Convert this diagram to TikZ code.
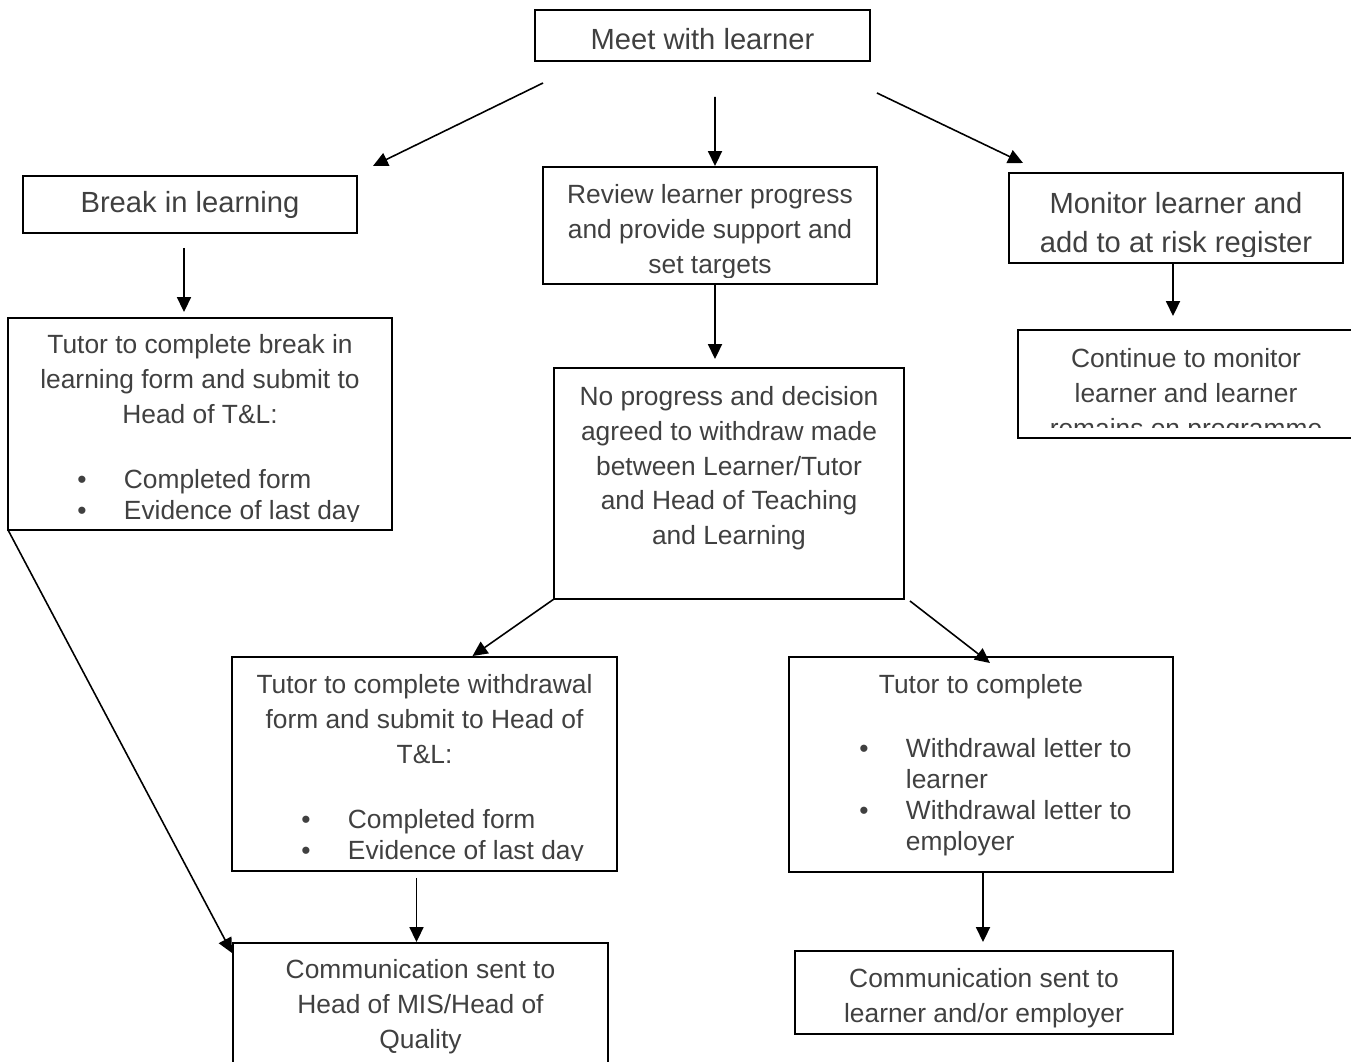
\documentclass[tikz,border=0pt]{standalone}
\usepackage{fontspec}
\setmainfont{Liberation Sans}
\usetikzlibrary{calc, arrows.meta}
\definecolor{txtgray}{RGB}{64,64,64}
\newcommand{\bigtxt}{\fontsize{16.6}{22}\selectfont}
\newcommand{\normtxt}{\fontsize{15}{19.8}\selectfont}
\newcommand{\listtxt}{\fontsize{15}{17.6}\selectfont}
\newcommand{\listbullet}{\makebox[26.5pt][l]{\textbullet}}

\begin{document}
\begin{tikzpicture}[x=0.02cm, y=-0.02cm,
    box/.style={draw, line width=1.1pt, inner sep=0pt, outer sep=0pt, text=txtgray},
    txt/.style={inner sep=0pt, text=txtgray, align=center, font=\normtxt, anchor=north},
    bullets/.style={inner sep=0pt, text=txtgray, align=left, font=\listtxt, anchor=north west},
    arr/.style={line width=0.9pt, -{Triangle[length=8.5pt, width=8pt]}}]
  \useasboundingbox (0,0) rectangle (1351,1061);

  % boxes
  \node[box, font=\bigtxt, text height=16pt, minimum width=6.70cm, minimum height=1.02cm] (meet) at (702.5,35.5) {Meet with learner};
  \node[box, font=\bigtxt, minimum width=6.68cm, minimum height=1.14cm] (brk) at (190,204.5) {Break in learning};
  \node[box, minimum width=6.68cm, minimum height=2.34cm] (review) at (710,225.5) {};
  \node[box, minimum width=6.68cm, minimum height=1.80cm] (monitor) at (1176,218) {};
  \node[box, minimum width=7.68cm, minimum height=4.24cm] (tutbrk) at (200,424) {};
  \node[box, minimum width=7.00cm, minimum height=4.62cm] (noprog) at (729,483.5) {};
  \node[box, minimum width=6.80cm, minimum height=2.16cm] (cont) at (1188,384) {};
  \node[box, minimum width=7.70cm, minimum height=4.28cm] (wdform) at (424.5,764) {};
  \node[box, minimum width=7.68cm, minimum height=4.30cm] (tutcomp) at (981,764.5) {};
  \node[box, minimum width=7.50cm, minimum height=2.64cm] (commis) at (420.5,1009) {};
  \node[box, minimum width=7.56cm, minimum height=1.66cm] (commlrn) at (984,992.5) {};

  % texts, cut off a little above the lower edge of their box
  \begin{scope}
    \clip (review.north west) rectangle ($(review.south east)+(0,-6)$);
    \node[txt] (reviewtext) at ($(review.north)+(0,17)$) {Review learner progress\\and provide support and\\set targets};
  \end{scope}
  \begin{scope}
    \clip (monitor.north west) rectangle ($(monitor.south east)+(0,-6)$);
    \node[txt, font=\bigtxt, text=txtgray] (monitortext) at ($(monitor.north)+(0,19)$) {Monitor learner and\\add to at risk register};
  \end{scope}
  \begin{scope}
    \clip (cont.north west) rectangle ($(cont.south east)+(0,-10)$);
    \node[txt] (conttext) at ($(cont.north)+(-2,18)$) {Continue to monitor\\learner and learner\\remains on programme};
  \end{scope}
  \begin{scope}
    \clip (tutbrk.north west) rectangle ($(tutbrk.south east)+(0,-8)$);
    \node[txt] (tutbrktext) at ($(tutbrk.north)+(0,16)$) {Tutor to complete break in\\learning form and submit to\\Head of T\&L:};
    \node[bullets] (tutbrklist) at ($(tutbrk.north west)+(69,151)$) {\listbullet Completed form\\\listbullet Evidence of last day};
  \end{scope}
  \node[txt] (noprogtext) at ($(noprog.north)+(0,18)$) {No progress and decision\\agreed to withdraw made\\between Learner/Tutor\\and Head of Teaching\\and Learning};
  \begin{scope}
    \clip (wdform.north west) rectangle ($(wdform.south east)+(0,-10)$);
    \node[txt] (wdformtext) at ($(wdform.north)+(0,17)$) {Tutor to complete withdrawal\\form and submit to Head of\\T\&L:};
    \node[bullets] (wdformlist) at ($(wdform.north west)+(69,152)$) {\listbullet Completed form\\\listbullet Evidence of last day};
  \end{scope}
  \node[txt] (tutcomptext) at ($(tutcomp.north)+(0,17)$) {Tutor to complete};
  \node[bullets] (tutcomplist) at ($(tutcomp.north west)+(70,81)$) {\listbullet Withdrawal letter to\\\hspace*{26.5pt}learner\\\listbullet Withdrawal letter to\\\hspace*{26.5pt}employer};
  \node[txt] (commistext) at ($(commis.north)+(0,16)$) {Communication sent to\\Head of MIS/Head of\\Quality};
  \begin{scope}
    \clip (commlrn.north west) rectangle ($(commlrn.south east)+(0,-7)$);
    \node[txt] (commlrntext) at ($(commlrn.north)+(0,17)$) {Communication sent to\\learner and/or employer};
  \end{scope}

  % arrows
  \draw[arr] ($(meet.south west)+(8,22)$) -- ($(brk.north east)+(16,-10)$);
  \draw[arr] ($(meet.south)+(12.5,36)$) -- ($(review.north)+(5,-1)$);
  \draw[arr] ($(meet.south east)+(7,32)$) -- ($(monitor.north west)+(14,-10)$);
  \draw[arr] ($(brk.south)+(-6,15)$) -- ($(tutbrk.north)+(-16,-6)$);
  \draw[arr] ($(review.south)+(5,0)$) -- ($(noprog.north)+(-14,-9)$);
  \draw[arr] ($(monitor.south)+(-3,0)$) -- ($(cont.north)+(-15,-14)$);
  \draw[arr] (tutbrk.south west) -- ($(commis.north west)+(-1,10)$);
  \draw[arr] (noprog.south west) -- ($(wdform.north)+(48,-1)$);
  \draw[arr] ($(noprog.south east)+(6,2)$) -- ($(tutcomp.north)+(9,6)$);
  \draw[arr] ($(wdform.south)+(-8,7)$) -- ($(commis.north)+(-4,-1)$);
  \draw[arr] ($(tutcomp.south)+(2,0)$) -- ($(commlrn.north)+(-1,-9)$);
\end{tikzpicture}
\end{document}
